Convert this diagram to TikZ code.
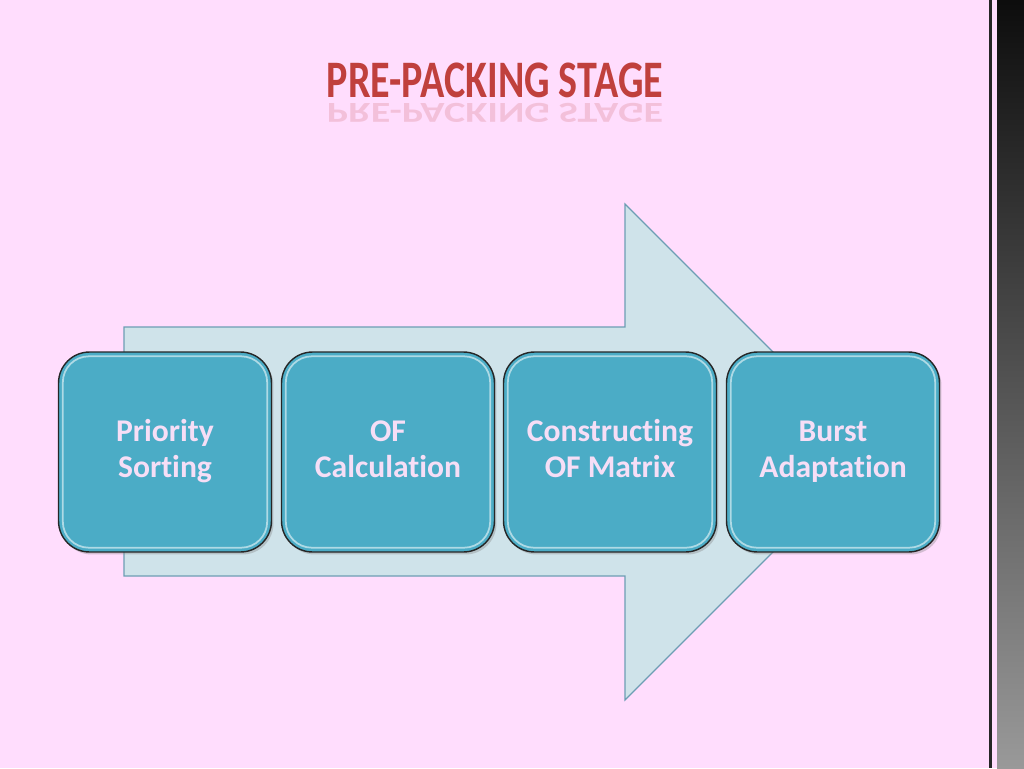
\documentclass[tikz,border=0pt]{standalone}
\usepackage{fontspec}
\setmainfont{Carlito}[Ligatures=NoCommon]
\usetikzlibrary{shadows,fadings}
\definecolor{bgpink}{HTML}{FFDDFD}
\definecolor{arrowfill}{HTML}{CFE3EA}
\definecolor{arrowline}{HTML}{6D9EB4}
\definecolor{boxfill}{HTML}{4BACC6}
\definecolor{boxtext}{HTML}{F6DEF6}
\definecolor{titlered}{HTML}{C0403D}
\tikzset{
  stepbox/.style={draw=black!85, line width=0.8pt, fill=boxfill, rounded corners=0.62cm,
    minimum width=4.26cm, minimum height=4.0cm, align=center, text=boxtext,
    font=\fontsize{18}{20.5}\selectfont\bfseries,
    drop shadow={shadow xshift=0.04cm, shadow yshift=-0.05cm, opacity=0.35}},
  gloss/.style={draw=white!55!boxfill, line width=1pt, rounded corners=0.52cm},
  titlefont/.style={font=\fontsize{30}{32}\selectfont\bfseries, xscale=0.76, transform shape}
}
\begin{document}
\begin{tikzpicture}[x=0.02cm,y=-0.02cm]
\useasboundingbox (0,0) rectangle (1024,768);
\fill[bgpink] (0,0) rectangle (1024,768);
% right decorative edge
\fill[black!85] (989,0) rectangle (992,768);
\shade[top color=black!95, bottom color=black!40] (997,0) rectangle (1024,768);
% title with reflection
\node[titlefont, text=titlered] (title) at (495,80) {PRE-PACKING STAGE};
\node[titlefont, text=titlered, opacity=0.18, yscale=-0.55, anchor=north] (reflect) at (495,126) {PRE-PACKING STAGE};
% big arrow
\path[fill=arrowfill, draw=arrowline, line width=0.7pt]
  (124,327) -- (625,327) -- (625,204) -- (873,452) -- (625,700) -- (625,576) -- (124,576) -- cycle;
% boxes
\node[stepbox] (b1) at (165,452) {Priority\strut\\Sorting\strut};
\node[stepbox] (b2) at (388,452) {OF\strut\\Calculation\strut};
\node[stepbox] (b3) at (610,452) {Constructing\strut\\OF Matrix\strut};
\node[stepbox] (b4) at (833,452) {Burst\strut\\Adaptation\strut};
\foreach \b in {b1,b2,b3,b4}{
  \draw[gloss] ([xshift=0.1cm,yshift=-0.1cm]\b.north west) rectangle ([xshift=-0.1cm,yshift=0.1cm]\b.south east);
}
\end{tikzpicture}
\end{document}
